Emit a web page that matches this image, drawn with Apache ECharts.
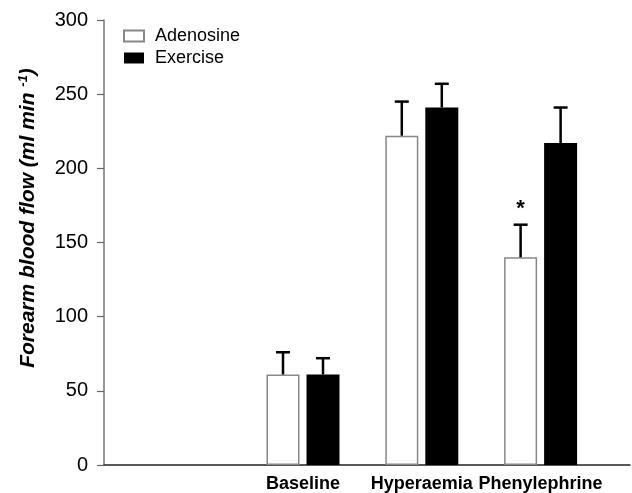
<!DOCTYPE html>
<html>
<head>
<meta charset="utf-8">
<script src="https://cdn.jsdelivr.net/npm/echarts@6/dist/echarts.min.js"></script>
<style>html,body{margin:0;padding:0;background:#fff}#c{width:632px;height:493px}</style>
</head>
<body>
<div id="c"></div>
<script>
const categories = ['Baseline', 'Hyperaemia', 'Phenylephrine'];
const adenosine = [61, 222, 140];
const adenosineErr = [15, 23, 22];
const exercise = [61, 241, 217];
const exerciseErr = [11, 16, 24];
const adenosineMarks = ['', '', '*'];
const yTicks = [0, 50, 100, 150, 200, 250, 300];

const FONT = 'Liberation Sans, Arial, Helvetica, sans-serif';
const BAR_W = 33, BAR_GAP = 7;
const OFF = (BAR_W + BAR_GAP) / 2;

function errData(vals, errs, marks) {
  return vals.map((v, i) => [i, v, errs[i], marks ? marks[i] : '']);
}

function errRender(offset) {
  return function (params, api) {
    const ci = api.value(0), v = api.value(1), e = api.value(2);
    const mark = api.value(3);
    const b = api.coord([ci, v]);
    const t = api.coord([ci, v + e]);
    const x = b[0] + offset;
    const children = [
      { type: 'line', shape: { x1: x, y1: b[1], x2: x, y2: t[1] }, style: { stroke: '#000', lineWidth: 2.5 } },
      { type: 'line', shape: { x1: x - 7, y1: t[1], x2: x + 7, y2: t[1] }, style: { stroke: '#000', lineWidth: 2.5 } }
    ];
    if (mark) {
      children.push({ type: 'text', x: x, y: t[1] - 16, style: { text: mark, fontSize: 22, fontWeight: 'bold', fontFamily: FONT, fill: '#000', align: 'center', verticalAlign: 'middle' } });
    }
    return { type: 'group', children };
  };
}

const chart = echarts.init(document.getElementById('c'));
chart.setOption({
  animation: false,
  backgroundColor: '#fff',
  grid: [
    { left: 104, right: 2, top: 20, bottom: 28 },
    { left: 243.6, right: 32, top: 20, bottom: 28 }
  ],
  legend: {
    data: ['Adenosine', 'Exercise'],
    orient: 'vertical', left: 118, top: 22,
    itemWidth: 20, itemHeight: 11, itemGap: 4,
    textStyle: { fontSize: 18, fontFamily: FONT, color: '#000', padding: [0, 0, 0, 6] },
    icon: 'rect'
  },
  xAxis: [
    { gridIndex: 0, type: 'value', min: 0, max: 1,
      axisLine: { show: true, lineStyle: { color: '#222', width: 1.5 } },
      axisTick: { show: false }, axisLabel: { show: false }, splitLine: { show: false } },
    { gridIndex: 1, type: 'category', data: categories,
      axisLine: { show: false }, axisTick: { show: false }, splitLine: { show: false },
      axisLabel: { interval: 0, fontSize: 18, fontWeight: 'bold', fontFamily: FONT, color: '#000', margin: 10 } }
  ],
  yAxis: [
    { gridIndex: 0, type: 'value', min: yTicks[0], max: yTicks[yTicks.length - 1], interval: 50,
      axisLine: { show: true, lineStyle: { color: '#777', width: 1.5 } },
      axisTick: { show: true, inside: false, length: 7, lineStyle: { color: '#666', width: 1.2 } },
      axisLabel: { fontSize: 20, fontFamily: FONT, color: '#000', margin: 16 },
      splitLine: { show: false } },
    { gridIndex: 1, type: 'value', min: yTicks[0], max: yTicks[yTicks.length - 1], show: false }
  ],
  graphic: [{
    type: 'text', x: 28, y: 218, rotation: Math.PI / 2,
    style: {
      text: '{m|Forearm blood flow (ml min }{s|-1}{m|)}',
      align: 'center', verticalAlign: 'middle',
      rich: {
        m: { fontSize: 21, fontWeight: 'bold', fontStyle: 'italic', fontFamily: FONT, fill: '#000' },
        s: { fontSize: 13, fontWeight: 'bold', fontStyle: 'italic', fontFamily: FONT, fill: '#000', verticalAlign: 'top', padding: [0, 0, 9, 0] }
      }
    }
  }],
  series: [
    { name: 'Adenosine', type: 'bar', xAxisIndex: 1, yAxisIndex: 1, data: adenosine,
      barWidth: BAR_W, barGap: (BAR_GAP / BAR_W * 100) + '%',
      itemStyle: { color: '#fff', borderColor: '#888', borderWidth: 1.5 } },
    { name: 'Exercise', type: 'bar', xAxisIndex: 1, yAxisIndex: 1, data: exercise,
      barWidth: BAR_W,
      itemStyle: { color: '#000' } },
    { type: 'custom', xAxisIndex: 1, yAxisIndex: 1, data: errData(adenosine, adenosineErr, adenosineMarks),
      renderItem: errRender(-OFF), z: 5 },
    { type: 'custom', xAxisIndex: 1, yAxisIndex: 1, data: errData(exercise, exerciseErr),
      renderItem: errRender(OFF), z: 5 }
  ]
});
</script>
</body>
</html>
